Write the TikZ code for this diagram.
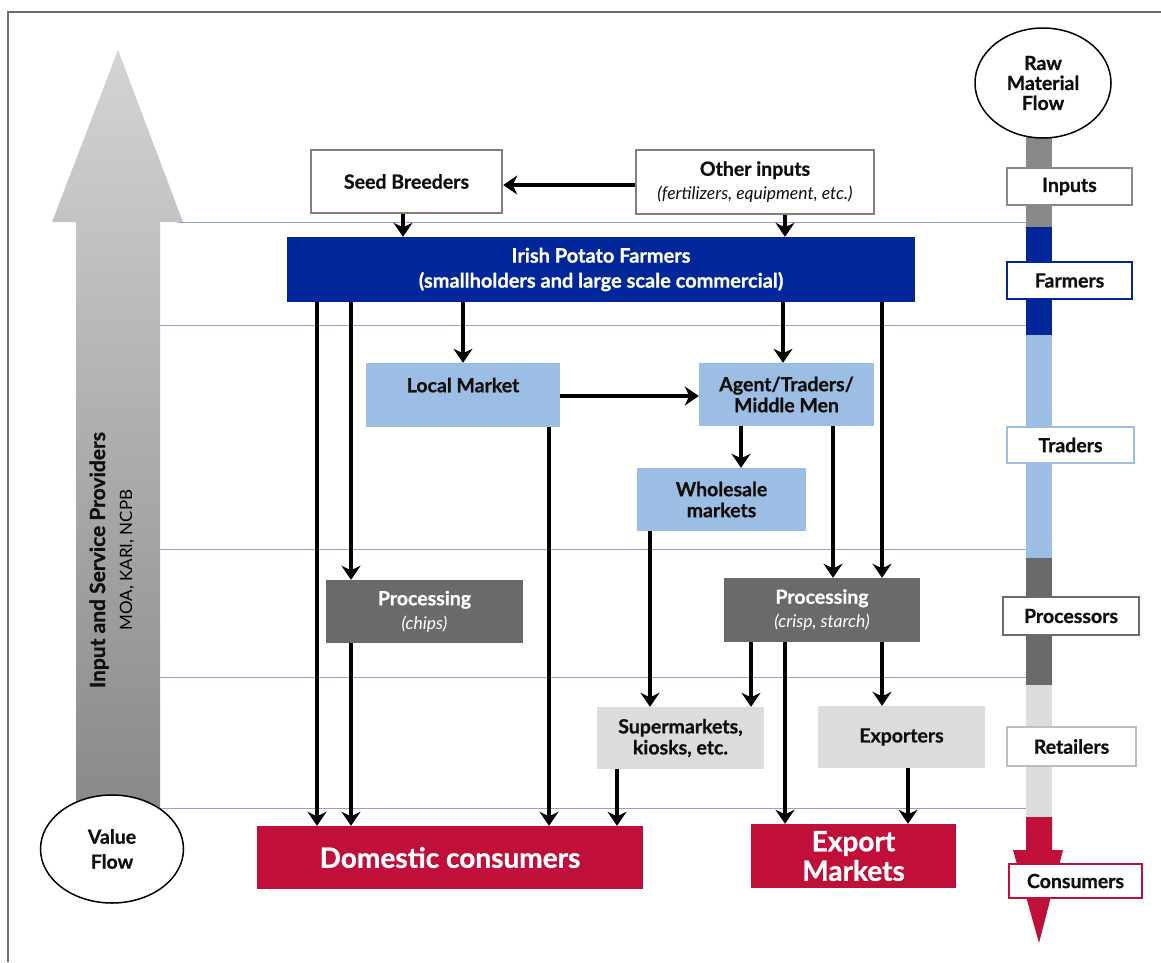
\documentclass[tikz,border=0pt]{standalone}
\usepackage{fontspec}
\setmainfont{Lato}[BoldFeatures={FakeBold=0.8}]
\usetikzlibrary{arrows.meta,shapes.geometric}
\definecolor{dblue}{RGB}{0,38,153}
\definecolor{lblue}{RGB}{157,190,228}
\definecolor{dgray}{RGB}{106,106,106}
\definecolor{lgray}{RGB}{220,220,220}
\definecolor{cred}{RGB}{192,16,58}
\definecolor{gline}{RGB}{140,165,200}
\definecolor{mgray}{RGB}{136,136,136}
\definecolor{bgray}{RGB}{128,128,128}
\definecolor{rgray}{RGB}{190,190,190}
\definecolor{txt}{RGB}{15,15,15}
\definecolor{frame}{RGB}{110,110,110}
\newcommand\subtxt{\fontsize{17.5}{21}\selectfont\itshape\mdseries}
\begin{document}
\begin{tikzpicture}[x=1pt,y=-1pt,
  arr/.style={line width=4.8pt,-{Stealth[length=14pt,width=19pt,inset=4.5pt]}},
  lane/.style={gline,line width=1pt},
  boxbase/.style={inner sep=0pt,align=center,font=\fontsize{19.5}{21}\selectfont\bfseries},
  wbox/.style={boxbase,draw=bgray,line width=2.5pt,fill=white,text=txt},
  bluebox/.style={boxbase,fill=dblue,text=white,font=\fontsize{20}{25}\selectfont\bfseries},
  lbbox/.style={boxbase,fill=lblue,text=txt},
  dgbox/.style={boxbase,fill=dgray,text=white},
  lgbox/.style={boxbase,fill=lgray,text=txt},
  redbox/.style={boxbase,fill=cred,text=white,font=\fontsize{28}{29.5}\selectfont\bfseries},
  tag/.style={inner sep=0pt,fill=white,line width=2.5pt,text=txt,font=\fontsize{19.5}{22}\selectfont\bfseries},
  flow/.style={ellipse,draw=black,line width=1.5pt,fill=white,inner sep=0pt,align=center,text=txt,font=\fontsize{19.5}{20}\selectfont\bfseries}
]
\useasboundingbox (0,0) rectangle (1161,962);
% frame
\draw[frame,line width=1.5pt] (8,962) -- (8,12) -- (1161,12);

% left big arrow
\shade[top color={rgb,255:red,212;green,212;blue,212},bottom color={rgb,255:red,135;green,135;blue,135}]
  (118,50) -- (183,222) -- (160,222) -- (160,830) -- (76,830) -- (76,222) -- (52,222) -- cycle;
\node[rotate=90,text=txt,font=\fontsize{21}{24}\selectfont\bfseries] (ispt) at (99,560) {Input and Service Providers};
\node[rotate=90,text=black,font=\fontsize{17}{20}\selectfont] (moa) at (127,560) {MOA, KARI, NCPB};

% lanes
\draw[lane] (178,222) -- (1026,222);
\draw[lane] (160,325) -- (1026,325);
\draw[lane] (160,549) -- (1026,549);
\draw[lane] (160,677) -- (1026,677);
\draw[lane] (160,808) -- (1026,808);

% right bar
\fill[mgray] (1026,130) rectangle (1052,227);
\fill[dblue] (1026,227) rectangle (1052,335);
\fill[lblue] (1026,335) rectangle (1052,558);
\fill[dgray] (1026,558) rectangle (1052,685);
\fill[lgray] (1026,685) rectangle (1052,817);
\fill[cred] (1026,817) -- (1052,817) -- (1052,850) -- (1063,850) -- (1039,943) -- (1013,850) -- (1026,850) -- cycle;

\node[flow,minimum width=136pt,minimum height=110pt] (raw) at (1043,83) {Raw\\Material\\Flow};
\node[flow,minimum width=143pt,minimum height=108pt,font=\fontsize{19.5}{25}\selectfont\bfseries] (val) at (112,849) {Value\\Flow};

\node[tag,draw=mgray,minimum width=125pt,minimum height=37pt] (tIn) at (1069.5,186.5) {Inputs};
\node[tag,draw=dblue,minimum width=125pt,minimum height=37pt] (tFa) at (1069.5,280.5) {Farmers};
\node[tag,draw=lblue,minimum width=127pt,minimum height=36pt] (tTr) at (1070.5,445) {Traders};
\node[tag,draw=dgray,minimum width=136pt,minimum height=38pt] (tPr) at (1071,616) {Processors};
\node[tag,draw=rgray,minimum width=129pt,minimum height=39pt] (tRe) at (1071.5,746.5) {Retailers};
\node[tag,draw=cred,minimum width=133pt,minimum height=34pt] (tCo) at (1075.5,881) {Consumers};

% boxes
\node[wbox,minimum width=191pt,minimum height=63pt] (seed) at (406.5,181.5) {Seed Breeders};
\node[wbox,minimum width=238pt,minimum height=64pt,font=\fontsize{19.5}{24}\selectfont\bfseries] (other) at (755,182) {Other inputs\\{\subtxt (fertilizers, equipment, etc.)}};
\node[bluebox,minimum width=628pt,minimum height=65pt] (far) at (601,269.5) {Irish Potato Farmers\\(smallholders and large scale commercial)};
\node[lbbox,minimum width=194pt,minimum height=64pt] (local) at (463,395) {\raisebox{20pt}{Local Market}};
\node[lbbox,minimum width=175pt,minimum height=63pt] (agent) at (786.5,394.5) {Agent/Traders/\\Middle Men};
\node[lbbox,minimum width=169pt,minimum height=63pt] (whole) at (721.5,499.5) {Wholesale\\markets};
\node[dgbox,minimum width=197pt,minimum height=63pt,font=\fontsize{19.5}{24}\selectfont\bfseries] (procA) at (424.5,611.5) {Processing\\{\subtxt (chips)}};
\node[dgbox,minimum width=196pt,minimum height=64pt,font=\fontsize{19.5}{24}\selectfont\bfseries] (procB) at (822,610) {Processing\\{\subtxt (crisp, starch)}};
\node[lgbox,minimum width=167pt,minimum height=62pt] (super) at (680.5,738) {Supermarkets,\\kiosks, etc.};
\node[lgbox,minimum width=167pt,minimum height=62pt] (expo) at (901.5,737) {Exporters};
\node[redbox,minimum width=386pt,minimum height=63pt] (dom) at (450,857.5) {Domestic consumers};
\node[redbox,minimum width=205pt,minimum height=64pt] (expm) at (853.5,856) {Export\\Markets};

% arrows
\draw[arr] (other.west |- 0,185) -- (seed.east |- 0,185);
\draw[arr] (seed.south -| 403,0) -- (far.north -| 403,0);
\draw[arr] (other.south -| 785,0) -- (far.north -| 785,0);
\draw[arr] (far.south -| 317,0) -- (dom.north -| 317,0);
\draw[arr] (far.south -| 351,0) -- (procA.north -| 351,0);
\draw[arr] (procA.south -| 351,0) -- (dom.north -| 351,0);
\draw[arr] (far.south -| 463,0) -- (local.north -| 463,0);
\draw[arr] (local.east |- 0,396) -- (agent.west |- 0,396);
\draw[arr] (local.south -| 549,0) -- (dom.north -| 549,0);
\draw[arr] (far.south -| 783,0) -- (agent.north -| 783,0);
\draw[arr] (far.south -| 882,0) -- (procB.north -| 882,0);
\draw[arr] (agent.south -| 741,0) -- (whole.north -| 741,0);
\draw[arr] (agent.south -| 833,0) -- (procB.north -| 833,0);
\draw[arr] (whole.south -| 650,0) -- (super.north -| 650,0);
\draw[arr] (procB.south -| 751,0) -- (super.north -| 751,0);
\draw[arr] (procB.south -| 785,0) -- (expm.north -| 785,0);
\draw[arr] (procB.south -| 882,0) -- (expo.north -| 882,0);
\draw[arr] (super.south -| 617,0) -- (dom.north -| 617,0);
\draw[arr] (expo.south -| 908,0) -- (expm.north -| 908,0);
\end{tikzpicture}
\end{document}
